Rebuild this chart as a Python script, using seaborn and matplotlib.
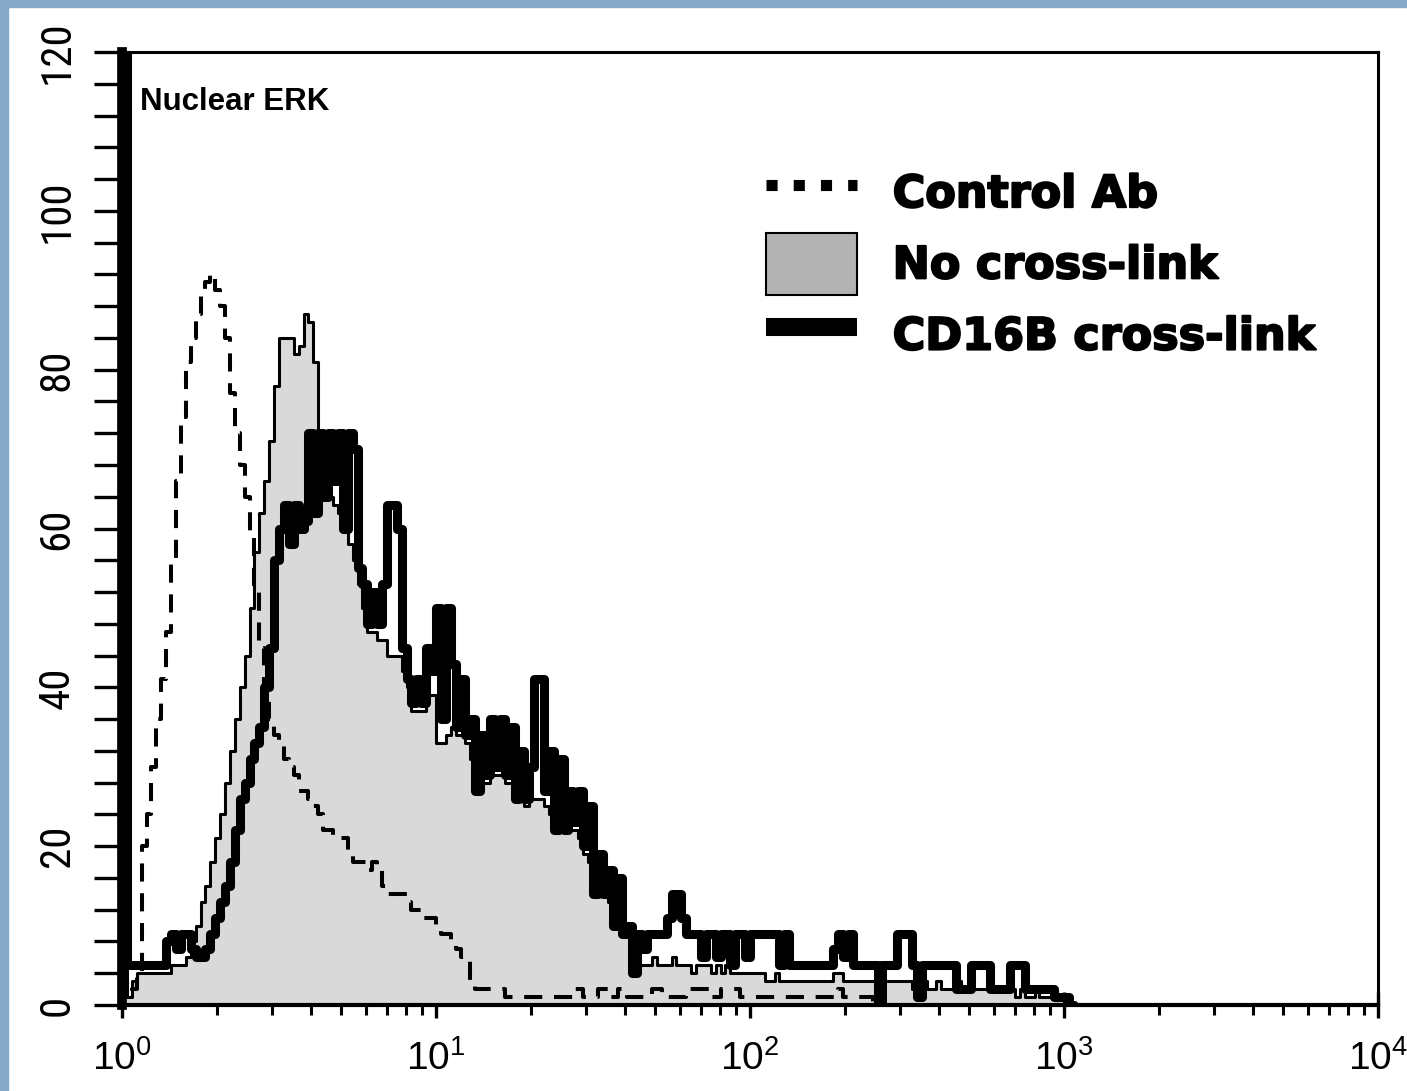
import numpy as np
import matplotlib
matplotlib.use("Agg")
import matplotlib.pyplot as plt
import matplotlib.patheffects as pe
from matplotlib.lines import Line2D
from matplotlib.patches import Patch, Rectangle
from matplotlib.ticker import MultipleLocator, LogLocator, NullFormatter
import seaborn as sns

# ---- data: flow cytometry histograms, 64 channels per decade starting at 10^0 ----
CHANNELS_PER_DECADE = 64

control_counts = [
    14, 1, 2, 4, 20, 24, 30, 36, 41, 47, 56, 66, 74, 81, 84, 87,
    90, 91, 92, 90, 88, 84, 77, 72, 68, 64, 59, 52, 45, 39, 36, 34,
    33, 31, 30, 29, 27, 27, 26, 25, 24, 22, 22, 21, 21, 21, 19, 18,
    18, 18, 17, 18, 17, 15, 14, 14, 14, 14, 13, 12, 12, 11, 11, 11,
    10, 9, 9, 8, 7, 6, 6, 3, 2, 2, 2, 2, 2, 2, 1, 1,
    1, 1, 1, 1, 1, 1, 1, 1, 1, 1, 1, 1, 2, 2, 1, 1,
    1, 2, 2, 1, 1, 2, 2, 1, 1, 1, 1, 1, 2, 2, 1, 1,
    1, 1, 1, 2, 2, 2, 2, 2, 1, 1, 2, 2, 2, 2, 1, 1,
    1, 1, 1, 1, 1, 1, 1, 1, 1, 1, 1, 1, 1, 1, 1, 1,
    1, 1, 2, 1, 1, 1, 1, 1, 1, 0,
]

no_crosslink_counts = [
    71, 1, 3, 4, 4, 4, 4, 4, 4, 4, 5, 5, 5, 6, 8, 10,
    13, 15, 18, 21, 24, 28, 32, 36, 40, 44, 50, 57, 62, 66, 71, 78,
    84, 84, 84, 82, 83, 87, 86, 81, 70, 66, 64, 63, 62, 60, 58, 56,
    53, 50, 47, 47, 46, 46, 44, 44, 44, 42, 40, 37, 37, 37, 39, 39,
    33, 33, 34, 35, 34, 34, 33, 31, 27, 28, 28, 29, 29, 29, 28, 28,
    26, 26, 25, 26, 26, 26, 25, 24, 22, 22, 22, 22, 22, 21, 19, 18,
    14, 17, 14, 13, 11, 11, 9, 9, 6, 5, 5, 5, 6, 5, 5, 5,
    6, 5, 5, 5, 4, 5, 5, 5, 4, 5, 4, 5, 4, 4, 4, 4,
    4, 4, 4, 3, 3, 4, 3, 3, 3, 3, 3, 3, 3, 3, 3, 3,
    3, 4, 4, 3, 3, 3, 3, 3, 3, 3, 3, 3, 3, 3, 3, 3,
    3, 2, 2, 3, 2, 2, 3, 2, 2, 2, 3, 2, 2, 2, 2, 2,
    2, 2, 2, 2, 2, 2, 1, 2, 1, 1, 2, 1, 1, 1, 1, 1,
    0, 0,
]

cd16b_counts = [
    125, 5, 5, 5, 5, 5, 5, 5, 5, 8, 9, 7, 9, 9, 7, 6,
    6, 7, 9, 11, 13, 15, 18, 22, 26, 28, 31, 33, 35, 40, 45, 56,
    60, 63, 58, 63, 60, 61, 72, 62, 72, 64, 72, 66, 72, 60, 72, 70,
    55, 53, 48, 52, 48, 53, 63, 63, 60, 45, 41, 38, 41, 38, 45, 42,
    50, 36, 50, 43, 35, 41, 34, 36, 27, 34, 29, 36, 30, 36, 29, 35,
    26, 32, 26, 30, 41, 41, 27, 32, 22, 31, 22, 27, 23, 27, 20, 25,
    14, 19, 14, 17, 10, 16, 9, 10, 4, 9, 7, 9, 9, 9, 9, 11,
    14, 14, 11, 9, 9, 9, 6, 9, 9, 6, 9, 9, 5, 9, 9, 6,
    9, 9, 9, 9, 9, 9, 5, 9, 5, 5, 5, 5, 5, 5, 5, 5,
    5, 7, 9, 6, 9, 5, 5, 5, 5, 5, 0, 5, 5, 5, 9, 9,
    9, 5, 1, 5, 5, 5, 5, 5, 5, 5, 2, 2, 2, 5, 5, 5,
    5, 2, 2, 2, 2, 5, 5, 5, 2, 2, 2, 2, 2, 2, 1, 1,
    1, 0,
]

series_labels = ["Control Ab", "No cross-link", "CD16B cross-link"]
y_ticks = [0, 20, 40, 60, 80, 100, 120]
x_decades = [0, 1, 2, 3, 4]
panel_title = "Nuclear ERK"


def step_xy(counts):
    counts = np.asarray(counts, dtype=float)
    edges = 10.0 ** (np.arange(len(counts) + 1) / CHANNELS_PER_DECADE)
    return edges, np.append(counts, 0.0)


# ---- style ----
sns.set_style("ticks")
plt.rcParams["font.family"] = ["Liberation Sans", "DejaVu Sans"]
plt.rcParams["mathtext.default"] = "regular"
for key in ("text.color", "axes.labelcolor", "xtick.color", "ytick.color",
            "axes.edgecolor"):
    plt.rcParams[key] = "black"

W, H, DPI = 1407, 1091, 100
fig = plt.figure(figsize=(W / DPI, H / DPI), dpi=DPI, facecolor="white")
ax = fig.add_axes([122 / W, 1 - 1005 / H, (1378 - 122) / W, (1005 - 52) / H])
ax.set_facecolor("white")
ax.set_xscale("log")

# frame strips along the left and top edges of the figure
frame_blue = "#86a9c8"
fig.patches.append(Rectangle((0, 0), 8 / W, 1, transform=fig.transFigure,
                             color=frame_blue, zorder=0))
fig.patches.append(Rectangle((0, 1 - 7 / H), 1, 7 / H, transform=fig.transFigure,
                             color=frame_blue, zorder=0))

# No cross-link: gray filled histogram with a thin outline
xe, ye = step_xy(no_crosslink_counts)
ax.fill_between(xe, ye, step="post", color="#d9d9d9", lw=0, zorder=1)
sns.lineplot(x=xe, y=ye, drawstyle="steps-post", estimator=None, sort=False,
             color="black", lw=2.2, ax=ax, zorder=2)

# Control antibody: dashed histogram
xe, ye = step_xy(control_counts)
sns.lineplot(x=xe, y=ye, drawstyle="steps-post", estimator=None, sort=False,
             color="black", lw=2.9, ax=ax, zorder=3)
ax.lines[-1].set_dashes([4.5, 2.9])

# CD16B cross-link: heavy outline
xe, ye = step_xy(cd16b_counts)
sns.lineplot(x=xe, y=ye, drawstyle="steps-post", estimator=None, sort=False,
             color="black", lw=6.5, ax=ax, zorder=4)

ax.set_xlim(1, 1e4)
ax.set_ylim(0, 120)
ax.set_xlabel("")
ax.set_ylabel("")

# ---- axes / ticks ----
for side, lw in [("left", 7.0), ("bottom", 3.0), ("top", 2.2), ("right", 2.2)]:
    ax.spines[side].set_linewidth(lw)
    ax.spines[side].set_color("black")
    ax.spines[side].set_visible(True)

ax.yaxis.set_minor_locator(MultipleLocator(4))
ax.set_yticks(y_ticks)
ax.set_yticklabels([str(v) for v in y_ticks], rotation=90, va="center",
                   family=["Liberation Sans Narrow", "Roboto Condensed",
                           "Liberation Sans"],
                   fontstretch="condensed", fontsize=31, color="black")
ax.tick_params(axis="y", which="both", direction="out", length=20, width=2.4,
               pad=12, color="black", labelcolor="black")

ax.set_xticks([10.0 ** d for d in x_decades])
ax.set_xticklabels([r"$\mathregular{10^{%d}}$" % d for d in x_decades],
                   fontsize=28, color="black")
ax.xaxis.set_minor_locator(LogLocator(base=10, subs=np.arange(2, 10)))
ax.xaxis.set_minor_formatter(NullFormatter())
ax.tick_params(axis="x", which="major", direction="inout", length=19, width=2.4,
               pad=16, color="black", labelcolor="black")
ax.tick_params(axis="x", which="minor", direction="out", length=7.5, width=2.2,
               color="black")
ax.grid(False)

# panel title
ax.text((140 - 122) / 1256, (1005 - 110) / 953, panel_title, transform=ax.transAxes,
        fontsize=22.5, fontweight="bold", va="baseline", ha="left", color="black",
        family=["Liberation Sans", "DejaVu Sans"])

# legend
handles = [
    Line2D([], [], color="black", lw=8, linestyle=(0, (1.0, 1.45)),
           dash_capstyle="butt"),
    Patch(facecolor="#b3b3b3", edgecolor="black", lw=1.5),
    Line2D([], [], color="black", lw=13, solid_capstyle="butt"),
]
leg = ax.legend(handles, series_labels, loc="upper left",
                bbox_to_anchor=((766 - 122) / 1256, (1005 - 162) / 953),
                frameon=False,
                prop={"family": "DejaVu Sans", "weight": "bold", "size": 32},
                handlelength=2.05, handleheight=1.75, handletextpad=0.8,
                labelspacing=0.22, borderpad=0, borderaxespad=0)
for t in leg.get_texts():
    t.set_color("black")
    t.set_path_effects([pe.withStroke(linewidth=1.5, foreground="black")])

fig.savefig("out.png", dpi=DPI, facecolor="white")
